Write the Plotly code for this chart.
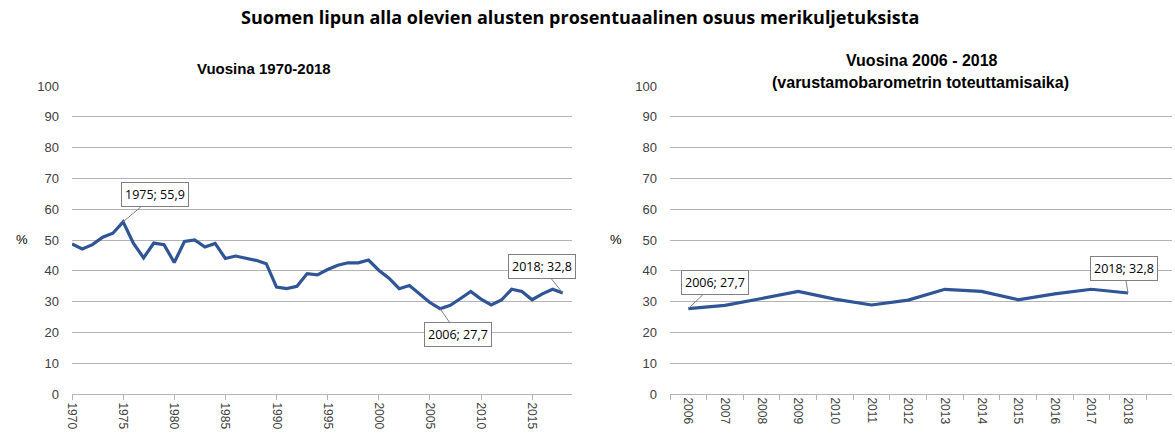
import plotly.graph_objects as go

years = list(range(1970, 2019))
share = [48.7, 47.1, 48.5, 50.9, 52.2, 55.9, 49.0, 44.2, 49.0, 48.5,
         42.7, 49.5, 50.0, 47.7, 48.9, 44.0, 44.8, 44.0, 43.4, 42.3,
         34.7, 34.2, 35.0, 39.1, 38.7, 40.4, 41.8, 42.6, 42.6, 43.5,
         40.2, 37.6, 34.2, 35.2, 32.4, 29.7, 27.7, 28.8, 31.0, 33.3,
         30.8, 28.9, 30.5, 34.0, 33.3, 30.6, 32.5, 34.0, 32.8]

recent_years = [str(y) for y in range(2006, 2019)]
recent_share = share[years.index(2006):]

title_main = "Suomen lipun alla olevien alusten prosentuaalinen osuus merikuljetuksista"
title_left = "Vuosina 1970-2018"
title_right_1 = "Vuosina 2006 - 2018"
title_right_2 = "(varustamobarometrin toteuttamisaika)"

LINE = "#2F5597"
GRID = "#B3B3B3"
TXT = "#404040"
W, H = 1175, 441

fig = go.Figure()
fig.add_trace(go.Scatter(x=years, y=share, mode="lines",
                         line=dict(color=LINE, width=3.2), xaxis="x", yaxis="y",
                         showlegend=False, hoverinfo="x+y"))
fig.add_trace(go.Scatter(x=recent_years, y=recent_share, mode="lines",
                         line=dict(color=LINE, width=3.2), xaxis="x2", yaxis="y2",
                         showlegend=False, hoverinfo="x+y"))

ydom = [(H - 394) / H, (H - 86) / H]
tickfont = dict(family="Liberation Sans, Arial, sans-serif", size=13, color=TXT)
xtickfont = dict(family="Liberation Sans, Arial, sans-serif", size=12, color=TXT)

yax = dict(range=[0, 100], dtick=10, tick0=0, showgrid=True, gridcolor=GRID,
           gridwidth=1, zeroline=False, showline=False, tickfont=tickfont,
           ticks="", ticklabelstandoff=12, domain=ydom, fixedrange=True,
           automargin=False)

fig.update_layout(
    width=W, height=H, autosize=False,
    margin=dict(l=0, r=0, t=0, b=0, pad=0),
    paper_bgcolor="white", plot_bgcolor="white",
    xaxis=dict(domain=[72 / W, 572 / W], range=[1970, 2018.9], tick0=1970, dtick=5,
               tickangle=90, showgrid=False, zeroline=False, showline=True,
               linecolor=GRID, linewidth=1, ticks="outside", ticklen=5,
               tickcolor=GRID, tickfont=xtickfont, anchor="y", automargin=False),
    yaxis=dict(**yax, anchor="x"),
    xaxis2=dict(domain=[670 / W, 1172 / W], type="category", range=[-0.5, 13.2],
                tickson="boundaries", tickangle=90, showgrid=False, zeroline=False,
                showline=True, linecolor=GRID, linewidth=1, ticks="outside",
                ticklen=5, tickcolor=GRID, tickfont=xtickfont, anchor="y2",
                automargin=False),
    yaxis2=dict(**yax, anchor="x2"),
)

ann = [
    dict(text="<b>" + title_main + "</b>", x=580 / W, y=(H - 17) / H,
         font=dict(family="Open Sans, sans-serif", size=18, color="#000")),
    dict(text="<b>" + title_left + "</b>", x=264 / W, y=(H - 68) / H,
         font=dict(family="Liberation Sans, Arial, sans-serif", size=15, color="#000")),
    dict(text="<b>" + title_right_1 + "</b>", x=922 / W, y=(H - 61) / H,
         font=dict(family="Liberation Sans, Arial, sans-serif", size=16, color="#000")),
    dict(text="<b>" + title_right_2 + "</b>", x=920 / W, y=(H - 82) / H,
         bgcolor="white", borderpad=1,
         font=dict(family="Liberation Sans, Arial, sans-serif", size=16, color="#000")),
]
for a in ann:
    fig.add_annotation(xref="paper", yref="paper", showarrow=False,
                       xanchor="center", yanchor="middle", **a)

for xp in [14, 616]:
    fig.add_annotation(xref="paper", yref="paper", x=xp / W, y=(H - 240) / H,
                       text="%", showarrow=False,
                       font=dict(family="Liberation Sans, Arial", size=13, color="#000"))

callouts = [
    ("x", "y", 1975, share[years.index(1975)], "1975; 55,9", 32, -27),
    ("x", "y", 2006, share[years.index(2006)], "2006; 27,7", 18, 26),
    ("x", "y", 2018, share[years.index(2018)], "2018; 32,8", -21, -26),
    ("x2", "y2", recent_years.index("2006"), recent_share[0], "2006; 27,7", 27, -26),
    ("x2", "y2", recent_years.index("2018"), recent_share[-1], "2018; 32,8", -4, -24),
]
for xr, yr, xv, yv, txt, ax, ay in callouts:
    fig.add_annotation(xref=xr, yref=yr, x=xv, y=yv, text=txt, showarrow=True,
                       arrowhead=0, arrowwidth=1, arrowcolor="#808080", ax=ax, ay=ay,
                       bgcolor="white", bordercolor="#808080", borderwidth=1, borderpad=3,
                       font=dict(family="Open Sans, sans-serif", size=12.5, color="#000"))

fig.write_html("out.html", config={"displayModeBar": False},
               post_script="document.body.style.margin='0';document.body.style.overflow='hidden';")
